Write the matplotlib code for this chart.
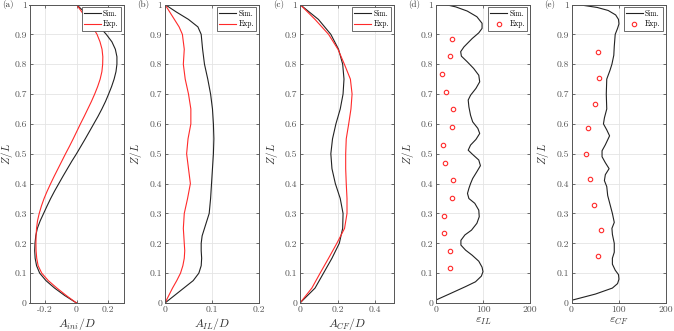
import numpy as np
import matplotlib
matplotlib.use("Agg")
import matplotlib.pyplot as plt

plt.rcParams['font.family'] = 'serif'
plt.rcParams['font.serif'] = ['cmr10', 'DejaVu Serif']
plt.rcParams['mathtext.fontset'] = 'cm'
plt.rcParams['axes.unicode_minus'] = False

# ---- data ----
z_a = [0, 0.025, 0.05, 0.075, 0.1, 0.125, 0.15, 0.175, 0.2, 0.225, 0.25, 0.275, 0.3,
       0.325, 0.35, 0.375, 0.4, 0.425, 0.45, 0.475, 0.5, 0.525, 0.55, 0.575, 0.6,
       0.625, 0.65, 0.675, 0.7, 0.725, 0.75, 0.775, 0.8, 0.825, 0.85, 0.875, 0.9,
       0.925, 0.95, 0.975, 1.0]
a_ini_sim = [0, -0.075, -0.14, -0.195, -0.235, -0.255, -0.264, -0.267, -0.265, -0.26, -0.25,
             -0.232, -0.21, -0.188, -0.165, -0.14, -0.113, -0.086, -0.058, -0.03, 0.0,
             0.028, 0.056, 0.083, 0.11, 0.137, 0.162, 0.185, 0.205, 0.224, 0.24, 0.252,
             0.258, 0.258, 0.248, 0.226, 0.19, 0.148, 0.1, 0.05, 0]
a_ini_exp = [0, -0.065, -0.125, -0.18, -0.222, -0.245, -0.254, -0.258, -0.259, -0.258, -0.255,
             -0.249, -0.238, -0.224, -0.207, -0.187, -0.165, -0.142, -0.118, -0.094, -0.07,
             -0.045, -0.021, 0.002, 0.025, 0.049, 0.072, 0.095, 0.116, 0.135, 0.151, 0.162,
             0.167, 0.168, 0.163, 0.15, 0.131, 0.102, 0.068, 0.034, 0]

z_b = [0, 0.025, 0.05, 0.075, 0.1, 0.125, 0.15, 0.175, 0.2, 0.225, 0.25, 0.3, 0.35, 0.4,
       0.45, 0.5, 0.55, 0.6, 0.65, 0.7, 0.75, 0.8, 0.85, 0.9, 0.925, 0.95, 0.975, 1.0]
a_il_sim = [0, 0.02, 0.04, 0.06, 0.072, 0.077, 0.078, 0.077, 0.077, 0.079, 0.084, 0.094,
            0.097, 0.099, 0.101, 0.103, 0.104, 0.103, 0.101, 0.097, 0.091, 0.084, 0.08,
            0.077, 0.07, 0.05, 0.024, 0]
a_il_exp = [0, 0.008, 0.016, 0.025, 0.033, 0.038, 0.041, 0.042, 0.041, 0.04, 0.039, 0.041,
            0.048, 0.054, 0.05, 0.046, 0.049, 0.055, 0.055, 0.05, 0.043, 0.039, 0.041,
            0.037, 0.03, 0.02, 0.01, 0]

z_c = [0, 0.05, 0.1, 0.15, 0.2, 0.25, 0.3, 0.35, 0.4, 0.45, 0.5,
       0.55, 0.6, 0.65, 0.7, 0.75, 0.8, 0.85, 0.9, 0.95, 1.0]
a_cf_sim = [0, 0.08, 0.125, 0.17, 0.209, 0.227, 0.229, 0.214, 0.188, 0.17, 0.164,
            0.173, 0.191, 0.214, 0.229, 0.234, 0.227, 0.205, 0.164, 0.098, 0]
a_cf_exp = [0, 0.063, 0.107, 0.152, 0.196, 0.237, 0.25, 0.25, 0.246, 0.243, 0.243,
            0.246, 0.259, 0.271, 0.277, 0.268, 0.236, 0.202, 0.152, 0.08, 0]

z_d = [0.01, 0.032, 0.055, 0.071, 0.09, 0.105, 0.12, 0.14, 0.16, 0.177, 0.194, 0.21,
       0.228, 0.244, 0.267, 0.289, 0.311, 0.334, 0.35, 0.367, 0.384, 0.4, 0.417, 0.44,
       0.46, 0.479, 0.499, 0.512, 0.529, 0.548, 0.568, 0.585, 0.607, 0.629, 0.657, 0.68,
       0.696, 0.719, 0.741, 0.763, 0.786, 0.808, 0.827, 0.842, 0.858, 0.886, 0.905, 0.92,
       0.937, 0.959, 0.978, 0.992, 1.0]
eps_il_sim = [0, 31, 63, 84, 96.5, 100, 98, 91, 77, 63, 53, 53,
              61.5, 75.5, 87, 92, 91, 82.5, 70, 67, 70, 73.5, 78, 87,
              94.5, 91, 77, 68.5, 73.5, 85, 93, 89, 78, 73.5, 70, 68.5,
              73.5, 85, 93, 91, 80, 66.5, 54, 52.5, 59.5, 77, 91, 98,
              98, 87, 66.5, 42, 19.5]
z_d_exp = [0.886, 0.827, 0.767, 0.708, 0.65, 0.589, 0.529, 0.47, 0.412, 0.353,
           0.292, 0.233, 0.175, 0.116]
eps_il_exp = [33, 29.4, 12.6, 21, 35.7, 33, 14.7, 19.6, 35.7, 33, 16.8, 16.8, 30.8, 30.8]

z_e = [0.009, 0.03, 0.05, 0.065, 0.08, 0.095, 0.11, 0.13, 0.15, 0.17, 0.2, 0.23, 0.25,
       0.27, 0.3, 0.33, 0.36, 0.39, 0.41, 0.43, 0.45, 0.47, 0.49, 0.51, 0.53, 0.56, 0.58,
       0.6, 0.62, 0.65, 0.7, 0.75, 0.78, 0.8, 0.83, 0.86, 0.9, 0.92, 0.935, 0.95, 0.965,
       0.98, 0.99, 1.0]
eps_cf_sim = [0, 51, 87, 98, 101, 100, 93, 87, 87, 91, 91, 87, 86,
              91, 87, 82, 77, 75, 70, 72, 80, 72, 65, 65, 72, 81, 75,
              68, 70, 75, 74, 75, 82, 86, 90, 91, 93, 98, 101, 100, 94,
              78, 55, 13]
z_e_exp = [0.841, 0.755, 0.668, 0.585, 0.5, 0.415, 0.327, 0.244, 0.156]
eps_cf_exp = [56, 59.4, 49, 35.7, 30, 38.5, 47.6, 63, 56.6]

panels = ['(a)', '(b)', '(c)', '(d)', '(e)']
xlabels = [r'$A_{ini}/D$', r'$A_{IL}/D$', r'$A_{CF}/D$', r'$\varepsilon_{IL}$', r'$\varepsilon_{CF}$']
xlims = [(-0.3, 0.3), (0, 0.2), (0, 0.5), (0, 200), (0, 200)]
xticks = [[-0.2, 0, 0.2], [0, 0.1, 0.2], [0, 0.2, 0.4], [0, 100, 200], [0, 100, 200]]
xticklabels = [['-0.2', '0', '0.2'], ['0', '0.1', '0.2'], ['0', '0.2', '0.4'],
               ['0', '100', '200'], ['0', '100', '200']]
yticks = [0, 0.1, 0.2, 0.3, 0.4, 0.5, 0.6, 0.7, 0.8, 0.9, 1]
yticklabels = ['0', '0.1', '0.2', '0.3', '0.4', '0.5', '0.6', '0.7', '0.8', '0.9', '1']

W, H = 674, 331
lefts = [29.5, 165, 300, 436, 571.5]
ylab_off = [-22.5, -28.5, -28.5, -28.5, -28.5]
aw = 94
bottom, top = 303, 4.5

fig = plt.figure(figsize=(W / 100, H / 100), dpi=100)
spine_col = '#555555'
sim_col = '#222222'
exp_col = '#ff2a2a'

axes = []
for i, l in enumerate(lefts):
    ax = fig.add_axes([l / W, (H - bottom) / H, aw / W, (bottom - top) / H])
    axes.append(ax)

curves = [(z_a, a_ini_sim, z_a, a_ini_exp), (z_b, a_il_sim, z_b, a_il_exp),
          (z_c, a_cf_sim, z_c, a_cf_exp)]

for i, ax in enumerate(axes):
    if i < 3:
        zs, sim, ze, exp = curves[i]
        ax.plot(sim, zs, color=sim_col, lw=0.8, label='Sim.')
        ax.plot(exp, ze, color=exp_col, lw=0.8, label='Exp.')
    elif i == 3:
        ax.plot(eps_il_sim, z_d, color=sim_col, lw=0.8, label='Sim.')
        ax.plot(eps_il_exp, z_d_exp, 'o', mfc='none', mec=exp_col, ms=3.2, mew=0.8,
                ls='none', label='Exp.')
    else:
        ax.plot(eps_cf_sim, z_e, color=sim_col, lw=0.8, label='Sim.')
        ax.plot(eps_cf_exp, z_e_exp, 'o', mfc='none', mec=exp_col, ms=3.2, mew=0.8,
                ls='none', label='Exp.')

    ax.set_xlim(xlims[i])
    ax.set_ylim(0, 1)
    ax.set_xticks(xticks[i])
    ax.set_xticklabels(xticklabels[i])
    ax.set_yticks(yticks)
    ax.set_yticklabels(yticklabels)
    ax.grid(True, color='#e4e4e4', lw=0.6)
    ax.set_axisbelow(True)
    for s in ax.spines.values():
        s.set_color(spine_col)
        s.set_linewidth(0.7)
    ax.tick_params(direction='in', length=2.5, width=0.6, colors=spine_col,
                   labelsize=7, pad=2, top=True, right=True)
    ax.set_xlabel(xlabels[i], fontsize=8.5, labelpad=1, color='#333333')
    ax.set_ylabel(r'$Z/L$', fontsize=8, color='#333333', va='center')
    ax.yaxis.set_label_coords(ylab_off[i] / aw, 0.5)
    ax.text(-16 / aw, 1.0, panels[i], transform=ax.transAxes, ha='right', va='center',
            fontsize=6.5, color='#333333')
    leg = ax.legend(loc='upper right', fontsize=5.5, handlelength=2.2, handletextpad=0.3,
                    borderpad=0.3, labelspacing=0.25, borderaxespad=0.35, fancybox=False,
                    framealpha=1)
    leg.get_frame().set_edgecolor(spine_col)
    leg.get_frame().set_linewidth(0.6)

fig.savefig('out.png', dpi=100)
